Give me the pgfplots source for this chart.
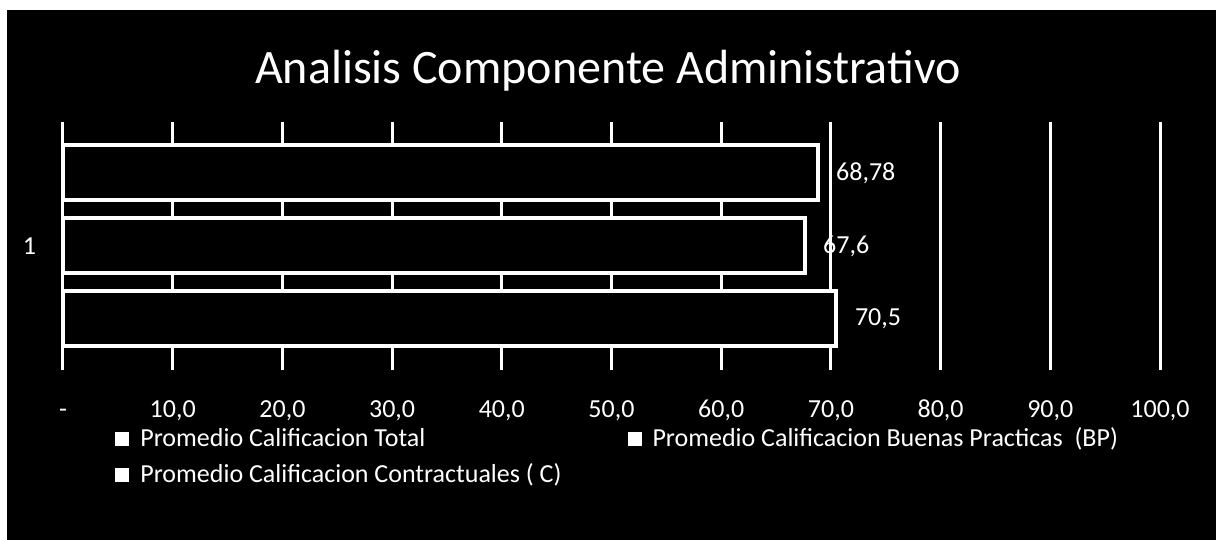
\documentclass[border=0pt]{standalone}
\usepackage{pgfplots}
\pgfplotsset{compat=1.18}
\usepackage{fontspec}
\setmainfont{Carlito}
\begin{document}
\begin{tikzpicture}[x=1pt,y=1pt]
\fill[white] (0,0) rectangle (608,270);
\fill[black] (3.5,0) rectangle (608,265);
\node[white, font=\fontsize{24}{28}\selectfont, anchor=base, inner sep=0pt] at (304,228) {Analisis Componente Administrativo};
\begin{axis}[
  at={(31.5pt,85pt)}, anchor=south west,
  scale only axis, width=548.5pt, height=124pt,
  xmin=0, xmax=100, ymin=0.5, ymax=1.5,
  xbar,
  xtick={0,10,...,100},
  xticklabels={{-},{10,0},{20,0},{30,0},{40,0},{50,0},{60,0},{70,0},{80,0},{90,0},{100,0}},
  ytick={1}, yticklabels={1},
  major tick length=0pt,
  xmajorgrids,
  grid style={white, line width=1.5pt},
  separate axis lines,
  x axis line style={draw=none},
  y axis line style={white, line width=1.5pt},
  xticklabel style={white, font=\fontsize{13}{15}\selectfont, anchor=base, yshift=-24pt},
  yticklabel style={white, font=\fontsize{13}{15}\selectfont, xshift=-10pt},
  /pgf/number format/assume math mode=true,
  /pgf/number format/use comma,
  point meta=x,
  nodes near coords,
  nodes near coords style={white, font=\fontsize{13}{15}\selectfont, anchor=west, xshift=5pt},
  bar width=27.5pt,
  legend columns=2,
  legend cell align=left,
  legend style={at={(0.0474,-0.215)}, anchor=north west, fill=black, draw=none,
    text=white, font=\fontsize{13}{15}\selectfont, inner sep=0pt, row sep=3pt,
    /tikz/every odd column/.append style={column sep=3.5pt},
    /tikz/every even column/.append style={column sep=31pt}},
  legend image code/.code={\fill[white] (0pt,-2.5pt) rectangle (5pt,2.5pt);},
]
\addplot[fill=black, draw=white, line width=2pt, bar shift=36.5pt] coordinates {(68.78,1)};
\addlegendentry{Promedio Calificacion Total}
\addplot[fill=black, draw=white, line width=2pt, bar shift=0pt] coordinates {(67.6,1)};
\addlegendentry{Promedio Calificacion Buenas Practicas~ (BP)}
\addplot[fill=black, draw=white, line width=2pt, bar shift=-36.5pt] coordinates {(70.5,1)};
\addlegendentry{Promedio Calificacion Contractuales ( C)}
\end{axis}
\pgfresetboundingbox
\path[use as bounding box] (0,0) rectangle (608,270);
\end{tikzpicture}
\end{document}
